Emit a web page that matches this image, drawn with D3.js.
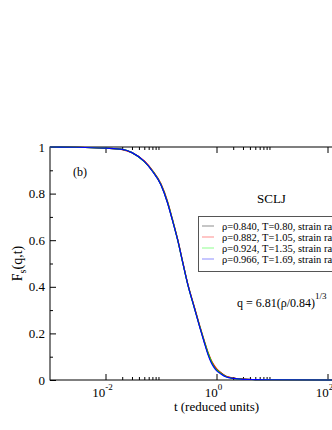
<!doctype html>
<html>
<head>
<script src="https://d3js.org/d3.v7.min.js"></script>
<style>
  body { margin: 0; background: #fff; }
</style>
</head>
<body>
<script>
// time points (reduced units)
var times = [0.001, 0.003, 0.01, 0.02, 0.03, 0.05, 0.07, 0.1, 0.13, 0.16, 0.2, 0.25, 0.3, 0.4, 0.5,
             0.6, 0.7, 0.8, 0.9, 1.0, 1.2, 1.5, 2, 3, 5, 10, 100, 1000];

// Fs(q,t) for each state point
var fs_840 = [1.000, 0.999, 0.995, 0.990, 0.976, 0.938, 0.897, 0.838, 0.764, 0.688, 0.601, 0.498, 0.416, 0.310, 0.228,
              0.165, 0.115, 0.080, 0.060, 0.047, 0.030, 0.015, 0.008, 0.004, 0.002, 0.001, 0.000, 0.000];
var fs_882 = [1.000, 0.999, 0.995, 0.989, 0.975, 0.940, 0.900, 0.842, 0.770, 0.692, 0.603, 0.500, 0.418, 0.313, 0.232,
              0.170, 0.120, 0.086, 0.064, 0.049, 0.031, 0.016, 0.008, 0.004, 0.002, 0.001, 0.000, 0.000];
var fs_924 = [1.000, 0.999, 0.995, 0.990, 0.976, 0.937, 0.898, 0.839, 0.766, 0.690, 0.600, 0.497, 0.415, 0.309, 0.229,
              0.167, 0.117, 0.082, 0.058, 0.044, 0.028, 0.014, 0.007, 0.003, 0.002, 0.001, 0.000, 0.000];
var fs_966 = [1.000, 0.999, 0.995, 0.990, 0.976, 0.938, 0.896, 0.837, 0.763, 0.687, 0.600, 0.497, 0.415, 0.308, 0.226,
              0.162, 0.110, 0.075, 0.054, 0.040, 0.026, 0.013, 0.007, 0.003, 0.002, 0.001, 0.000, 0.000];

var labels = ["\u03c1=0.840, T=0.80, strain rate=0.0",
              "\u03c1=0.882, T=1.05, strain rate=0.0",
              "\u03c1=0.924, T=1.35, strain rate=0.0",
              "\u03c1=0.966, T=1.69, strain rate=0.0"];
var colors = ["#000000", "#ff0000", "#00ff00", "#0000ff"];
var series = [fs_840, fs_882, fs_924, fs_966];

var yTicks = [0, 0.2, 0.4, 0.6, 0.8, 1];
var yMinor = [0.1, 0.3, 0.5, 0.7, 0.9];
var xTicks = [0.01, 1, 100];
var xTickExp = ["-2", "0", "2"];

var margin = {top: 147, left: 50};
var width = 333, height = 233;
var serif = "'Liberation Serif', 'Times New Roman', Times, 'DejaVu Serif', serif";

var svg = d3.select("body").append("svg")
    .attr("width", 332)
    .attr("height", 430)
    .attr("font-family", serif)
    .style("font-family", serif);

var x = d3.scaleLog().domain([0.001, 1000]).range([margin.left, margin.left + width]);
var y = d3.scaleLinear().domain([0, 1]).range([margin.top + height, margin.top]);

// minor x ticks: 2..9 after each labelled decade
var xMinor = [];
xTicks.forEach(function(d) {
  for (var k = 2; k <= 9; k++) xMinor.push(d * k);
});

// frame
svg.append("rect")
    .attr("x", margin.left).attr("y", margin.top)
    .attr("width", width).attr("height", height)
    .attr("fill", "none").attr("stroke", "#000").attr("stroke-width", 1);

function styleAxis(g) {
  g.select(".domain").remove();
  g.selectAll("line").attr("stroke", "#000");
  g.selectAll("text").remove();
}

// bottom and top ticks (pointing inward)
svg.append("g").attr("transform", "translate(0," + (margin.top + height) + ")")
    .call(d3.axisBottom(x).tickValues(xTicks).tickSize(-6)).call(styleAxis);
svg.append("g").attr("transform", "translate(0," + (margin.top + height) + ")")
    .call(d3.axisBottom(x).tickValues(xMinor).tickSize(-3)).call(styleAxis);
svg.append("g").attr("transform", "translate(0," + margin.top + ")")
    .call(d3.axisTop(x).tickValues(xTicks).tickSize(-6)).call(styleAxis);
svg.append("g").attr("transform", "translate(0," + margin.top + ")")
    .call(d3.axisTop(x).tickValues(xMinor).tickSize(-3)).call(styleAxis);

// left ticks
svg.append("g").attr("transform", "translate(" + margin.left + ",0)")
    .call(d3.axisLeft(y).tickValues(yTicks).tickSize(-6)).call(styleAxis);
svg.append("g").attr("transform", "translate(" + margin.left + ",0)")
    .call(d3.axisLeft(y).tickValues(yMinor).tickSize(-3)).call(styleAxis);

// y tick labels
svg.selectAll(".ylab").data(yTicks).enter().append("text")
    .attr("x", margin.left - 5)
    .attr("y", function(d) { return y(d) + 4.5; })
    .attr("text-anchor", "end")
    .attr("font-size", 13)
    .text(function(d) { return d === 0 || d === 1 ? d : d.toFixed(1); });

// x tick labels 10^n
var xl = svg.selectAll(".xlab").data(xTicks).enter().append("text")
    .attr("x", function(d) { return x(d) - 3; })
    .attr("y", 397)
    .attr("text-anchor", "middle")
    .attr("font-size", 13);
xl.append("tspan").text("10");
xl.append("tspan").attr("dy", -7).attr("font-size", 9).text(function(d, i) { return xTickExp[i]; });

// axis titles
svg.append("text")
    .attr("x", x(1)).attr("y", 411)
    .attr("text-anchor", "middle")
    .attr("font-size", 13)
    .text("t (reduced units)");

var yt = svg.append("text")
    .attr("transform", "translate(22," + (margin.top + height / 2) + ") rotate(-90)")
    .attr("text-anchor", "middle")
    .attr("font-size", 14);
yt.append("tspan").text("F");
yt.append("tspan").attr("dy", 4).attr("font-size", 10).text("s");
yt.append("tspan").attr("dy", -4).text("(q,t)");

// curves
var line = d3.line()
    .x(function(d) { return x(d[0]); })
    .y(function(d) { return y(d[1]); })
    .curve(d3.curveMonotoneX);

var plot = svg.append("g");
series.forEach(function(s, i) {
  plot.append("path")
      .datum(times.map(function(t, j) { return [t, s[j]]; }))
      .attr("d", line)
      .attr("fill", "none")
      .attr("stroke", colors[i])
      .attr("stroke-width", 1.2);
});

// annotations
svg.append("text").attr("x", 73).attr("y", 176).attr("font-size", 12).text("(b)");
svg.append("text").attr("x", 257).attr("y", 203).attr("font-size", 13).text("SCLJ");

var qt = svg.append("text").attr("x", 237).attr("y", 307).attr("font-size", 12);
qt.append("tspan").text("q = 6.81(\u03c1/0.84)");
qt.append("tspan").attr("dy", -8).attr("font-size", 9).text("1/3");

// legend
var lg = svg.append("g");
lg.append("rect")
    .attr("x", 198.5).attr("y", 216.5)
    .attr("width", 200).attr("height", 55)
    .attr("fill", "#fff").attr("stroke", "#555").attr("stroke-width", 1);
labels.forEach(function(lab, i) {
  var yy = 226 + i * 11;
  lg.append("line")
      .attr("x1", 202).attr("x2", 214)
      .attr("y1", yy).attr("y2", yy)
      .attr("stroke", colors[i]).attr("stroke-opacity", 0.45).attr("stroke-width", 1);
  lg.append("text")
      .attr("x", 222).attr("y", yy + 3.5)
      .attr("font-size", 10.5)
      .text(lab);
});
</script>
</body>
</html>
